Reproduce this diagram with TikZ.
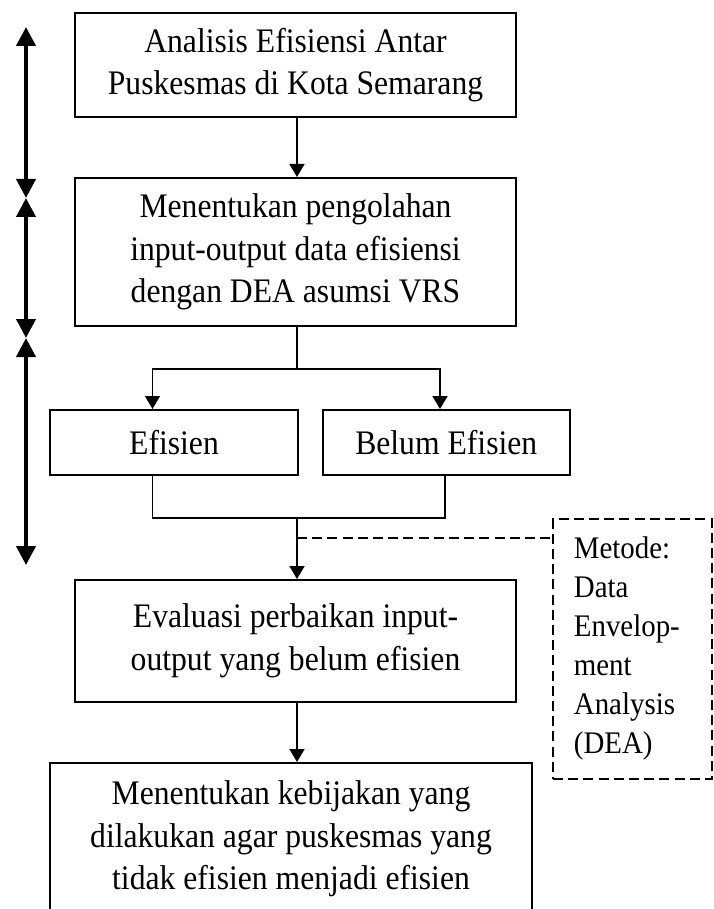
\documentclass[tikz,border=0pt]{standalone}
\usepackage{fontspec}
\setmainfont{Liberation Serif}[FakeStretch=0.92]
\usetikzlibrary{arrows.meta}
\begin{document}
\begin{tikzpicture}[x=0.5pt,y=-0.5pt,
  mbox/.style={draw,line width=1pt,inner sep=0pt,align=center,anchor=north west,
    font=\fontsize{17.2pt}{21.25pt}\selectfont},
  arr/.style={line width=0.8pt,-{Triangle[length=6.5pt,width=7.5pt]}},
  conn/.style={line width=0.8pt},
  bigarr/.style={line width=2pt,{Triangle[length=9.5pt,width=9.5pt]}-{Triangle[length=9.5pt,width=9.5pt]}},
  dbox/.style={draw,line width=0.9pt,dash pattern=on 5pt off 2.6pt,inner ysep=0pt,inner xsep=10.5pt,
    anchor=north west,align=left,text width=58.5pt,minimum width=79.5pt,minimum height=130pt,
    font=\fontsize{15.7pt}{19.5pt}\selectfont},
  dline/.style={line width=0.9pt,dash pattern=on 5pt off 2.6pt}]
\useasboundingbox (0,0) rectangle (713,909);
\clip (0,0) rectangle (713,909);

\node[mbox,minimum width=220.5pt,minimum height=52pt] (b1) at (74,12)
  {Analisis Efisiensi Antar\\Puskesmas di Kota Semarang};
\node[mbox,minimum width=220.5pt,minimum height=74pt] (b2) at (74,177)
  {Menentukan pengolahan\\input-output data efisiensi\\dengan DEA asumsi VRS};
\node[mbox,minimum width=124pt,minimum height=32.5pt] (bE) at (49,409) {Efisien};
\node[mbox,minimum width=123.75pt,minimum height=32.5pt] (bB) at (321.5,409) {Belum Efisien};
\node[mbox,minimum width=220.5pt,minimum height=61pt] (b4) at (74,579)
  {Evaluasi perbaikan input-\\output yang belum efisien};
\node[mbox,minimum width=241pt,minimum height=76pt] (b5) at (49,762)
  {Menentukan kebijakan yang\\dilakukan agar puskesmas yang\\tidak efisien menjadi efisien};
\node[dbox] (dm) at (552,518)
  {Metode:\\Data\\Envelop-\\ment\\Analysis\\(DEA)};

\coordinate (mx) at (297,0);
\coordinate (split) at (297,369);
\coordinate (bl) at (152.5,369);
\coordinate (br) at (440,369);
\coordinate (ml) at (152.5,518);
\coordinate (mr) at (445,518);
\coordinate (mg) at (297,518);
\coordinate (dj) at (297,538);

\draw[arr] (b1.south -| mx) -- (b2.north -| mx);
\draw[conn] (b2.south -| mx) -- (split);
\draw[arr] (split) -- (bl) -- (bE.north -| bl);
\draw[arr] (split) -- (br) -- (bB.north -| br);
\draw[conn] (bE.south -| ml) -- (ml) -- (mr) -- (bB.south -| mr);
\draw[arr] (mg) -- (b4.north -| mg);
\draw[dline] (dj) -- (dj -| dm.west);
\draw[arr] (b4.south -| mx) -- (b5.north -| mx);

\coordinate (la0) at (26,27);
\coordinate (la1) at (26,198);
\coordinate (la2) at (26,338);
\coordinate (la3) at (26,565);
\draw[bigarr] (la0) -- (la1);
\draw[bigarr] (la1) -- (la2);
\draw[bigarr] (la2) -- (la3);
\end{tikzpicture}
\end{document}
